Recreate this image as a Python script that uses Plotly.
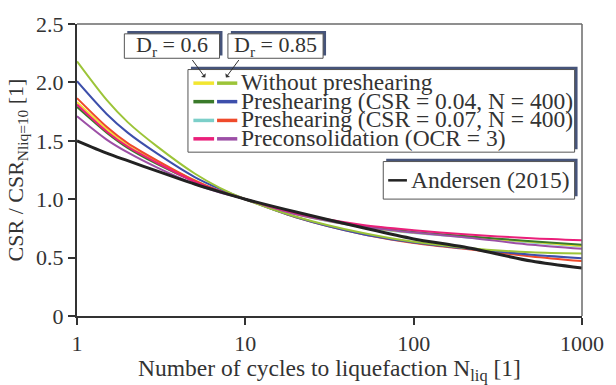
import plotly.graph_objects as go

# ---- data ----
N = [1, 1.5, 2, 3, 5, 7, 10, 20, 50, 100, 200, 500, 1000]

dr06_without = [1.83, 1.60, 1.46, 1.32, 1.16, 1.07, 1.0, 0.870, 0.765, 0.715, 0.680, 0.635, 0.600]
dr06_pre004 = [1.79, 1.57, 1.44, 1.30, 1.15, 1.07, 1.0, 0.875, 0.770, 0.720, 0.685, 0.640, 0.610]
dr06_pre007 = [1.80, 1.58, 1.45, 1.31, 1.15, 1.07, 1.0, 0.870, 0.760, 0.710, 0.675, 0.630, 0.595]
dr06_ocr3 = [1.81, 1.58, 1.45, 1.31, 1.15, 1.07, 1.0, 0.880, 0.780, 0.735, 0.700, 0.665, 0.648]

dr085_without = [2.18, 1.85, 1.66, 1.45, 1.22, 1.10, 1.0, 0.850, 0.710, 0.635, 0.585, 0.545, 0.535]
dr085_pre004 = [2.01, 1.73, 1.57, 1.39, 1.19, 1.09, 1.0, 0.845, 0.700, 0.630, 0.580, 0.525, 0.495]
dr085_pre007 = [1.865, 1.62, 1.48, 1.33, 1.16, 1.07, 1.0, 0.845, 0.700, 0.625, 0.575, 0.510, 0.470]
dr085_ocr3 = [1.71, 1.51, 1.40, 1.27, 1.13, 1.06, 1.0, 0.870, 0.765, 0.715, 0.675, 0.610, 0.575]

andersen = [1.50, 1.395, 1.33, 1.24, 1.13, 1.065, 1.0, 0.890, 0.755, 0.660, 0.590, 0.470, 0.410]

x_ticks = [1, 10, 100, 1000]
x_tick_labels = ["1", "10", "100", "1000"]
y_ticks = [0, 0.5, 1.0, 1.5, 2.0, 2.5]
y_tick_labels = ["0", "0.5", "1.0", "1.5", "2.0", "2.5"]

legend_rows = [
    "Without preshearing",
    "Preshearing (CSR = 0.04, N = 400)",
    "Preshearing (CSR = 0.07, N = 400)",
    "Preconsolidation (OCR = 3)",
]

C_YELLOW = "#f2e630"
C_YGREEN = "#9cc438"
C_DGREEN = "#3a7a2a"
C_BLUE = "#3d4fab"
C_CYAN = "#7ccfc9"
C_RED = "#ef4a2b"
C_PINK = "#ea1f7a"
C_PURPLE = "#9c4fa6"
C_BLACK = "#222222"

series = [
    (dr06_pre007, C_CYAN, 2),
    (dr06_without, C_YELLOW, 2),
    (dr06_pre004, C_DGREEN, 2),
    (dr085_pre007, C_RED, 2),
    (dr085_pre004, C_BLUE, 2),
    (dr085_without, C_YGREEN, 2),
    (dr085_ocr3, C_PURPLE, 2),
    (dr06_ocr3, C_PINK, 2),
    (andersen, C_BLACK, 3),
]

fig = go.Figure()
for ys, col, w in series:
    fig.add_trace(go.Scatter(x=N, y=ys, mode="lines",
                             line=dict(color=col, width=w, shape="spline", smoothing=0.8),
                             showlegend=False, hoverinfo="skip"))

W, H = 616, 385
L, R, T, B = 77, 27, 13, 61
X0, X1 = L, W - R
Y0, Y1 = T, H - B


def px(x):
    return (x - X0) / (X1 - X0)


def py(y):
    return (Y1 - y) / (Y1 - Y0)


FONT = "Liberation Serif, Times New Roman, Times, serif"
TXT = "#333333"
SHADOW = "#46547a"
FS = 22
LFS = 23.5

shapes = []
annotations = []

# top & right frame
shapes.append(dict(type="line", xref="paper", yref="paper", x0=0, x1=1, y0=1, y1=1,
                   line=dict(color="#6a6a6a", width=1.5)))
shapes.append(dict(type="line", xref="paper", yref="paper", x0=1, x1=1, y0=0, y1=1,
                   line=dict(color="#6a6a6a", width=1.5)))


def box(x0, y0, x1, y1):
    shapes.append(dict(type="rect", xref="paper", yref="paper",
                       x0=px(x0 + 3), x1=px(x1 + 3), y0=py(y1 - 3), y1=py(y0 - 3),
                       fillcolor=SHADOW, line=dict(width=0), layer="above"))
    shapes.append(dict(type="rect", xref="paper", yref="paper",
                       x0=px(x0), x1=px(x1), y0=py(y1), y1=py(y0),
                       fillcolor="white", line=dict(color="#555555", width=1), layer="above"))


def seg(x0, x1, y, col, w=3.5):
    shapes.append(dict(type="line", xref="paper", yref="paper",
                       x0=px(x0), x1=px(x1), y0=py(y), y1=py(y),
                       line=dict(color=col, width=w), layer="above"))


def text(x, y, s, anchor="left", size=LFS):
    annotations.append(dict(xref="paper", yref="paper", x=px(x), y=py(y), text=s,
                            showarrow=False, xanchor=anchor, yanchor="middle",
                            font=dict(family=FONT, size=size, color=TXT)))


# D_r boxes
box(125, 23.5, 221.5, 49.5)
text(173, 36.5, "D<sub>r</sub> = 0.6", anchor="center", size=22)
box(230, 23.5, 326.5, 49.5)
text(278, 36.5, "D<sub>r</sub> = 0.85", anchor="center", size=22)

# main legend box
box(189.5, 61.5, 581.5, 149.5)
row_y = [76, 95.7, 115.7, 135.3]
left_cols = [C_YELLOW, C_DGREEN, C_CYAN, C_PINK]
right_cols = [C_YGREEN, C_BLUE, C_RED, C_PURPLE]
for yy, lc, rc, lab in zip(row_y, left_cols, right_cols, legend_rows):
    seg(195, 216, yy, lc)
    seg(219, 239.5, yy, rc)
    text(241, yy - 1, lab)

# Andersen box
box(387.5, 159.5, 581.5, 199.5)
seg(392.5, 411.5, 179.5, C_BLACK, 2.5)
text(414, 179, "Andersen (2015)")

# arrows
for (hx, hy), (tx, ty) in [((207, 70), (193, 51)), ((228, 70), (242, 51))]:
    annotations.append(dict(xref="paper", yref="paper", x=px(hx), y=py(hy),
                            ax=tx - hx, ay=ty - hy, axref="pixel", ayref="pixel",
                            showarrow=True, arrowhead=1, arrowsize=1, arrowwidth=1,
                            arrowcolor="#333333", text=""))

fig.update_layout(
    width=W, height=H,
    margin=dict(l=L, r=R, t=T, b=B),
    paper_bgcolor="white", plot_bgcolor="white",
    font=dict(family=FONT, size=FS, color=TXT),
    shapes=shapes, annotations=annotations,
    showlegend=False,
)
fig.update_xaxes(type="log", range=[0, 3], tickvals=x_ticks, ticktext=x_tick_labels,
                 showgrid=False, zeroline=False, showline=True, linecolor="#333333", linewidth=2,
                 ticks="outside", ticklen=7, tickwidth=1.5, tickcolor="#333333",
                 tickfont=dict(family=FONT, size=FS, color=TXT),
                 title=dict(text="Number of cycles to liquefaction N<sub>liq</sub> [1]",
                            font=dict(family=FONT, size=23.5, color=TXT), standoff=0))
fig.update_yaxes(range=[0, 2.5], tickvals=y_ticks, ticktext=y_tick_labels,
                 showgrid=False, zeroline=False, showline=True, linecolor="#333333", linewidth=2,
                 ticks="outside", ticklen=7, tickwidth=1.5, tickcolor="#333333",
                 tickfont=dict(family=FONT, size=FS, color=TXT),
                 title=dict(text="CSR / CSR<sub>Nliq=10</sub> [1]",
                            font=dict(family=FONT, size=FS, color=TXT), standoff=6))

fig.write_html("out.html")
